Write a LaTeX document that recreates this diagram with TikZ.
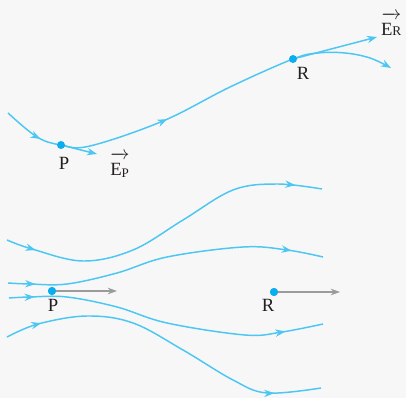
\documentclass[tikz,border=0pt]{standalone}
\usepackage{amsmath}
\usepackage{fontspec}
\setmainfont{Liberation Serif}
\usetikzlibrary{arrows.meta,decorations.markings}
\definecolor{fldBlue}{HTML}{4CC6F3}
\definecolor{fldDot}{HTML}{0AAEEF}
\definecolor{fldGray}{HTML}{9B9B9B}
\definecolor{fldText}{HTML}{231F20}
\definecolor{fldBg}{HTML}{F7F7F7}
\tikzset{
  fieldline/.style={color=fldBlue,line width=1.1pt},
  fieldarrows/.style 2 args={postaction={decorate},decoration={markings,
    mark=at position #1 with {\arrow{Stealth[length=7.5pt,width=5.5pt]}},
    mark=at position #2 with {\arrow{Stealth[length=7.5pt,width=5.5pt]}}}},
  chargedot/.style={circle,fill=fldDot,inner sep=0pt,minimum size=6pt},
  ptlabel/.style={text=fldText,font=\fontsize{14}{16}\selectfont},
  evec/.style={-{Stealth[length=7.5pt,width=5.5pt]},color=fldBlue,line width=1.1pt},
  gvec/.style={-{Stealth[length=7pt,width=5pt]},color=fldGray,line width=0.9pt}
}

\begin{document}
\begin{tikzpicture}[x=0.75pt,y=-0.75pt]
  \fill[fldBg] (0,0) rectangle (406,398);
  \useasboundingbox (0,0) rectangle (406,398);
  % curved line, top
  \coordinate (p1) at (61,145);
  \coordinate (r1) at (293,59);
  \coordinate (ep) at (97,154);
  \coordinate (er) at (377,37);
  \draw[fieldline, fieldarrows={0.10}{0.42}, -{Stealth[length=7.5pt,width=5.5pt]}]
    plot[smooth, tension=0.6] coordinates {(8,113) (37,137) (p1) (90,146) (163,121)
      (230,87) (r1) (318,53) (345,53) (370,58) (391,68)};
  \draw[evec] (p1) -- (ep);
  \draw[evec] (r1) -- (er);
  \node[chargedot] (pdot1) at (p1) {};
  \node[chargedot] (rdot1) at (r1) {};
  \node[ptlabel] (plab1) at (64,163) {P};
  \node[ptlabel] (rlab1) at (303,73) {R};
  \node[ptlabel] (eplab) at (120,165) {$\overrightarrow{\rule{0pt}{12pt}\text{E}_{\text{P}}}$};
  \node[ptlabel, anchor=east] (erlab) at (406,24) {$\overrightarrow{\rule{0pt}{12pt}\text{E}\text{\fontsize{10}{10}\selectfont R}}$};
  % bundle of lines, bottom
  \draw[fieldline, fieldarrows={0.09}{0.92}]
    plot[smooth, tension=0.6] coordinates {(7,240) (32,249) (83,261) (133,250)
      (183,220) (233,190) (277,184) (322,189)};
  \draw[fieldline, fieldarrows={0.085}{0.90}]
    plot[smooth, tension=0.6] coordinates {(8,283) (30,284) (67,284) (117,273)
      (167,257) (243,247) (287,250) (323,257)};
  \draw[fieldline, fieldarrows={0.08}{0.88}]
    plot[smooth, tension=0.6] coordinates {(9,298) (30,297) (67,297) (117,307)
      (167,323) (245,335) (282,332) (323,324)};
  \draw[fieldline, fieldarrows={0.11}{0.86}]
    plot[smooth, tension=0.6] coordinates {(7,337) (38,324) (87,316) (133,323)
      (183,350) (233,380) (267,393) (321,388)};
  \node[chargedot] (pdot2) at (52,291) {};
  \node[chargedot] (rdot2) at (274,292) {};
  \coordinate (gp) at (117,291);
  \coordinate (gr) at (340,292);
  \draw[gvec] (pdot2.center) -- (gp);
  \draw[gvec] (rdot2.center) -- (gr);
  \node[chargedot] at (pdot2) {};
  \node[chargedot] at (rdot2) {};
  \node[ptlabel] (plab2) at (53,305) {P};
  \node[ptlabel] (rlab2) at (268,305) {R};
\end{tikzpicture}
\end{document}
